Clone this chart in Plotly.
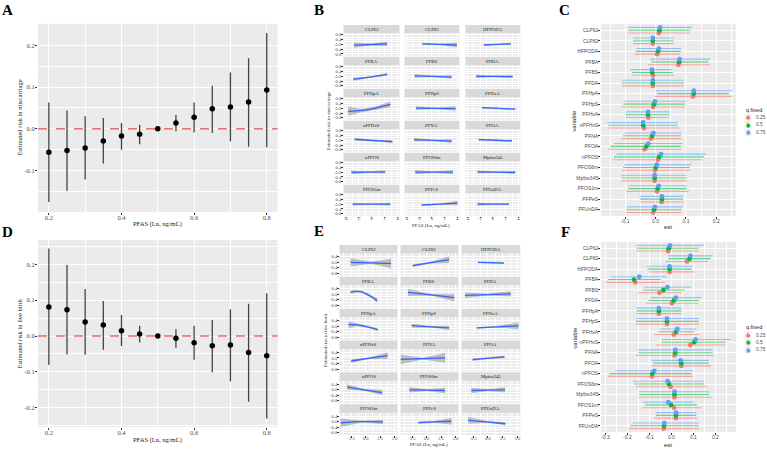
import plotly.graph_objects as go

W, H = 767, 452


def X(p):
    return p / W


def Y(p):
    return 1 - p / H


# ---------------- data: panels A and D ----------------
pfas = [0.2, 0.25, 0.3, 0.35, 0.4, 0.45, 0.5, 0.55, 0.6, 0.65, 0.7, 0.75, 0.8]
mis_est = [-0.056, -0.052, -0.046, -0.029, -0.017, -0.013, 0.0, 0.014, 0.028, 0.048, 0.052, 0.064, 0.093]
mis_lo = [-0.175, -0.148, -0.121, -0.083, -0.050, -0.037, 0.0, -0.006, -0.009, -0.010, -0.030, -0.043, -0.044]
mis_hi = [0.063, 0.044, 0.030, 0.026, 0.014, 0.010, 0.0, 0.033, 0.063, 0.103, 0.135, 0.169, 0.229]
lb_est = [0.081, 0.073, 0.039, 0.031, 0.015, 0.006, 0.0, -0.006, -0.019, -0.027, -0.025, -0.046, -0.055]
lb_lo = [-0.081, -0.051, -0.052, -0.038, -0.028, -0.018, 0.0, -0.033, -0.066, -0.101, -0.127, -0.183, -0.230]
lb_hi = [0.244, 0.198, 0.131, 0.098, 0.059, 0.029, 0.0, 0.019, 0.029, 0.045, 0.075, 0.090, 0.119]

# ---------------- variables ----------------
variables = ["CLP62", "CLP82", "HFPODA", "PFBA", "PFBS", "PFDA", "PFHpA", "PFHpS", "PFHxA",
             "nPFHxS", "PFNA", "PFOA", "nPFOS", "PFOS6m", "Mpfos345", "PFOS1m", "PFPeS", "PFUnDA"]
quantiles = ["0.25", "0.5", "0.75"]

# ---------------- data: panel B (miscarriage facets) ----------------
B_x = [[-2.7, 0, 2.4], [-1.5, 1.2, 3.9], [-1.4, 0.7, 2.8],
       [-2.8, 0, 2.4], [-2.7, 0.2, 3.1], [-2.6, 0.2, 3.1],
       [-3.6, -1.5, 0.5, 2.9], [-2.5, 0.6, 3.7], [-1.7, 0.9, 3.5],
       [-2.6, 0.3, 3.2], [-2.8, 0.2, 3.1], [-2.2, 0.4, 3.0],
       [-3.1, -0.5, 2.1], [-2.6, 0.35, 3.3], [-2.4, 0.55, 3.5],
       [-2.9, 0, 2.9], [-1.6, 1.2, 4.0], [-2.4, 0.05, 2.5]]
B_fit = [[-0.06, -0.01, 0.04], [0.05, 0.0, -0.05], [-0.05, 0.0, 0.05],
         [-0.24, -0.04, 0.16], [0.04, -0.01, -0.06], [0.0, -0.01, -0.02],
         [-0.25, -0.18, 0.0, 0.32], [0.02, 0.0, -0.02], [0.05, -0.01, -0.07],
         [0.08, -0.02, -0.12], [0.05, -0.01, -0.07], [0.05, 0.0, -0.05],
         [-0.01, 0.01, 0.03], [0.0, 0.0, 0.0], [0.02, 0.0, -0.02],
         [0.0, 0.0, 0.0], [-0.07, 0.01, 0.09], [0.0, 0.0, 0.0]]
B_lo = [[-0.28, -0.07, -0.16], [-0.03, -0.06, -0.25], [-0.12, -0.04, -0.03],
        [-0.36, -0.09, 0.04], [-0.12, -0.06, -0.2], [-0.14, -0.06, -0.14],
        [-0.62, -0.33, -0.12, 0.08], [-0.12, -0.05, -0.2], [-0.02, -0.05, -0.15],
        [-0.04, -0.07, -0.26], [-0.1, -0.06, -0.22], [-0.05, -0.04, -0.15],
        [-0.16, -0.04, -0.1], [-0.18, -0.05, -0.18], [-0.1, -0.05, -0.14],
        [-0.12, -0.04, -0.12], [-0.12, -0.04, -0.1], [-0.14, -0.05, -0.06]]
B_hi = [[0.16, 0.05, 0.24], [0.13, 0.06, 0.15], [0.02, 0.04, 0.13],
        [-0.12, 0.01, 0.28], [0.2, 0.04, 0.08], [0.14, 0.04, 0.1],
        [0.12, -0.03, 0.12, 0.56], [0.16, 0.05, 0.16], [0.12, 0.03, 0.01],
        [0.2, 0.03, 0.02], [0.2, 0.04, 0.08], [0.15, 0.04, 0.05],
        [0.14, 0.06, 0.16], [0.18, 0.05, 0.18], [0.14, 0.05, 0.1],
        [0.12, 0.04, 0.12], [-0.02, 0.06, 0.28], [0.14, 0.05, 0.06]]

# ---------------- data: panel E (live birth facets) ----------------
E_x = [[-2.6, 0.9, 4.4], [-2.4, 0.75, 3.9], [-1.7, 0.5, 2.7],
       [-2.6, -1.7, -0.8, 0.0, 1.0, 2.0], [-3.2, 0.8, 4.8], [-3.9, 0, 3.9],
       [-2.95, -1.5, 0.3, 2.1], [-2.55, 0.7, 3.9], [-1.9, 1.65, 5.2],
       [-2.5, 0.65, 3.8], [-4.5, -0.65, 3.2], [-2.6, 0.1, 2.8],
       [-3.2, -0.2, 2.85], [-2.95, 0.1, 3.2], [-2.8, 0.05, 2.9],
       [-4.3, -0.6, 3.0], [-1.4, 1.45, 4.3], [-3.35, -0.2, 2.95]]
E_fit = [[0.0, -0.03, -0.08], [-0.23, -0.02, 0.2], [0.0, -0.02, -0.05],
         [0.15, 0.21, 0.18, 0.05, -0.18, -0.45], [0.13, -0.05, -0.24], [-0.08, -0.03, 0.03],
         [0.1, 0.08, -0.05, -0.26], [0.03, -0.05, -0.13], [-0.13, -0.05, 0.02],
         [-0.22, -0.02, 0.17], [-0.1, -0.05, 0.0], [-0.12, -0.02, 0.08],
         [0.2, 0.0, -0.2], [0.0, -0.02, -0.05], [-0.05, -0.02, 0.0],
         [-0.08, 0.0, -0.02], [-0.07, -0.02, 0.03], [0.1, -0.02, -0.15]]
E_lo = [[-0.3, -0.1, -0.42], [-0.33, -0.08, -0.04], [-0.05, -0.06, -0.12],
        [0.03, 0.13, 0.11, -0.03, -0.28, -0.63], [-0.12, -0.11, -0.5], [-0.28, -0.09, -0.17],
        [-0.15, -0.02, -0.12, -0.36], [-0.12, -0.11, -0.28], [-0.19, -0.11, -0.23],
        [-0.34, -0.08, -0.08], [-0.45, -0.12, -0.35], [-0.22, -0.07, -0.02],
        [0.0, -0.06, -0.4], [-0.2, -0.08, -0.25], [-0.25, -0.08, -0.2],
        [-0.38, -0.06, -0.17], [-0.15, -0.08, -0.22], [-0.15, -0.08, -0.25]]
E_hi = [[0.3, 0.04, 0.26], [-0.13, 0.04, 0.44], [0.05, 0.02, 0.02],
        [0.27, 0.29, 0.25, 0.13, -0.08, -0.27], [0.38, 0.01, 0.02], [0.12, 0.03, 0.23],
        [0.35, 0.18, 0.02, -0.16], [0.18, 0.01, 0.02], [-0.07, 0.01, 0.27],
        [-0.1, 0.04, 0.42], [0.25, 0.02, 0.35], [-0.02, 0.03, 0.18],
        [0.4, 0.06, 0.0], [0.2, 0.04, 0.15], [0.15, 0.04, 0.2],
        [0.22, 0.06, 0.13], [0.01, 0.04, 0.28], [0.35, 0.04, -0.05]]

# ---------------- data: panel C (miscarriage, quantile estimates) ----------------
C_est = [[0.011, -0.009, 0.005, 0.075, -0.008, -0.009, 0.123, -0.008, -0.024, -0.038, -0.015, -0.036, 0.008, -0.002, -0.003, 0.005, 0.020, -0.008],
         [0.013, -0.009, 0.008, 0.078, -0.011, -0.009, 0.126, -0.005, -0.025, -0.041, -0.011, -0.030, 0.012, 0.001, -0.003, 0.007, 0.021, -0.005],
         [0.015, -0.009, 0.011, 0.079, -0.012, -0.009, 0.126, -0.002, -0.025, -0.041, -0.007, -0.024, 0.018, 0.004, -0.003, 0.010, 0.021, -0.002]]
C_lo = [[-0.090, -0.074, -0.068, -0.025, -0.076, -0.111, -0.002, -0.114, -0.098, -0.155, -0.112, -0.155, -0.139, -0.112, -0.112, -0.096, -0.052, -0.098],
        [-0.090, -0.074, -0.065, -0.014, -0.078, -0.111, 0.004, -0.107, -0.098, -0.155, -0.107, -0.148, -0.137, -0.107, -0.112, -0.090, -0.052, -0.096],
        [-0.090, -0.074, -0.063, -0.017, -0.082, -0.111, 0.000, -0.103, -0.098, -0.159, -0.103, -0.137, -0.128, -0.103, -0.112, -0.090, -0.052, -0.093]]
C_hi = [[0.113, 0.059, 0.081, 0.178, 0.060, 0.093, 0.252, 0.097, 0.046, 0.078, 0.084, 0.084, 0.154, 0.113, 0.103, 0.109, 0.091, 0.085],
        [0.115, 0.059, 0.083, 0.174, 0.057, 0.093, 0.241, 0.097, 0.046, 0.073, 0.084, 0.084, 0.160, 0.113, 0.103, 0.103, 0.091, 0.087],
        [0.120, 0.059, 0.084, 0.180, 0.054, 0.093, 0.252, 0.102, 0.046, 0.074, 0.087, 0.089, 0.165, 0.116, 0.103, 0.103, 0.091, 0.089]]

# ---------------- data: panel F (live birth, quantile estimates) ----------------
F_est = [[-0.015, 0.071, -0.008, -0.164, -0.054, 0.002, -0.057, -0.020, 0.011, 0.086, 0.014, 0.045, -0.089, -0.003, 0.014, 0.012, 0.020, -0.035],
         [-0.011, 0.083, -0.008, -0.170, -0.036, 0.011, -0.057, -0.020, 0.021, 0.104, 0.018, 0.045, -0.086, -0.011, 0.014, -0.002, 0.021, -0.033],
         [-0.006, 0.087, -0.008, -0.146, -0.018, 0.020, -0.057, -0.020, 0.027, 0.110, 0.018, 0.042, -0.078, -0.017, 0.014, -0.014, 0.021, -0.032]]
F_lo = [[-0.158, -0.026, -0.101, -0.300, -0.152, -0.116, -0.158, -0.161, -0.077, -0.071, -0.161, -0.089, -0.289, -0.161, -0.146, -0.131, -0.078, -0.191],
        [-0.158, -0.014, -0.108, -0.289, -0.128, -0.104, -0.158, -0.161, -0.059, -0.044, -0.150, -0.083, -0.282, -0.170, -0.146, -0.119, -0.071, -0.187],
        [-0.158, -0.014, -0.113, -0.274, -0.123, -0.096, -0.158, -0.161, -0.053, -0.044, -0.150, -0.089, -0.255, -0.176, -0.146, -0.128, -0.071, -0.176]]
F_hi = [[0.125, 0.167, 0.105, -0.029, 0.045, 0.120, 0.047, 0.125, 0.125, 0.245, 0.193, 0.181, 0.098, 0.163, 0.182, 0.137, 0.117, 0.125],
        [0.125, 0.179, 0.092, -0.048, 0.060, 0.126, 0.047, 0.125, 0.104, 0.248, 0.188, 0.170, 0.092, 0.151, 0.173, 0.117, 0.114, 0.125],
        [0.148, 0.188, 0.098, -0.021, 0.090, 0.137, 0.047, 0.125, 0.113, 0.268, 0.188, 0.170, 0.098, 0.148, 0.173, 0.105, 0.113, 0.125]]

# ---------------- styles ----------------
SERIF = "Liberation Serif"
SANS = "Liberation Sans"
TICK_COL = "#4D4D4D"
Q_COLORS = ["#F8766D", "#00BA38", "#619CFF"]
Q_LIGHT = ["rgba(248,118,109,0.6)", "rgba(0,186,56,0.6)", "rgba(97,156,255,0.6)"]

fig = go.Figure()
layout = dict(
    width=W, height=H, autosize=False,
    margin=dict(l=0, r=0, t=0, b=0),
    paper_bgcolor="white", plot_bgcolor="#EBEBEB",
    showlegend=False,
    scattermode="group", scattergap=0.2,
)
shapes = []
annotations = []


def base_axis(font, size, **kw):
    d = dict(showline=False, zeroline=False, showgrid=True, gridcolor="white",
             ticks="outside", tickcolor="#333333", ticklen=2, tickwidth=0.6,
             tickfont=dict(family=font, size=size, color=TICK_COL), fixedrange=True)
    d.update(kw)
    return d


def txt(s, px, py, size, font=SERIF, angle=0, color="#1A1A1A", xanchor="center", bold=False):
    annotations.append(dict(text=s, x=X(px), y=Y(py), xref="paper", yref="paper",
                            showarrow=False, textangle=angle, xanchor=xanchor, yanchor="middle",
                            font=dict(family=font, size=size, color=color,
                                      weight="bold" if bold else "normal")))


# ---------------- panels A and D ----------------
def dose_panel(k, est, lo, hi, x0, x1, y0, y1, yr, ytv):
    ax = "" if k == 1 else str(k)
    layout["xaxis" + ax] = base_axis(
        SERIF, 6.5, domain=[X(x0), X(x1)], anchor="y" + ax, range=[0.17, 0.83],
        tickvals=[0.2, 0.4, 0.6, 0.8], ticktext=["0.2", "0.4", "0.6", "0.8"], gridwidth=0.9,
        ticklabelstandoff=-3,
        minor=dict(tickvals=[0.3, 0.5, 0.7], showgrid=True, gridcolor="white", gridwidth=0.45, ticks=""))
    layout["yaxis" + ax] = base_axis(
        SERIF, 6.5, domain=[Y(y1), Y(y0)], anchor="x" + ax, range=yr,
        tickvals=ytv, ticktext=[("%.1f" % v).replace("-0.0", "0.0") for v in ytv], gridwidth=0.9,
        ticklabelstandoff=-1,
        minor=dict(tickvals=[v + 0.05 for v in ytv] + [ytv[0] - 0.05], showgrid=True,
                   gridcolor="white", gridwidth=0.45, ticks=""))
    fig.add_trace(go.Scatter(
        x=pfas, y=est, mode="markers", xaxis="x" + ax, yaxis="y" + ax,
        marker=dict(color="black", size=5.5),
        error_y=dict(type="data", symmetric=False,
                     array=[h - e for h, e in zip(hi, est)],
                     arrayminus=[e - l for e, l in zip(est, lo)],
                     width=0, thickness=1.3, color="#444444"),
        hoverinfo="skip"))
    shapes.append(dict(type="line", xref="x" + ax + " domain", x0=0, x1=1, yref="y" + ax, y0=0, y1=0,
                       line=dict(color="#D22B2B", width=1, dash="dash"), layer="above"))


dose_panel(1, mis_est, mis_lo, mis_hi, 38, 278, 23, 212, [-0.199, 0.251], [-0.1, 0.0, 0.1, 0.2])
dose_panel(2, lb_est, lb_lo, lb_hi, 38, 278, 240, 428, [-0.254, 0.268], [-0.2, -0.1, 0.0, 0.1, 0.2])
txt("Estimated risk in miscarriage", 20, 117, 6.5, angle=-90)
txt("PFAS (Ln, ng/mL)", 158, 224, 6.5)
txt("Estimated risk in live birth", 20, 334, 6.5, angle=-90)
txt("PFAS (Ln, ng/mL)", 158, 441, 6.5)


# ---------------- panels C and F ----------------
def quant_panel(k, est, lo, hi, x0, x1, y0, y1, xr, xtv, xminor):
    ax = str(k)
    layout["xaxis" + ax] = base_axis(
        SANS, 5, domain=[X(x0), X(x1)], anchor="y" + ax, range=xr,
        tickvals=xtv, ticktext=[("%.1f" % v).replace("-0.0", "0.0") for v in xtv], gridwidth=0.8,
        ticklabelstandoff=-2,
        minor=dict(tickvals=xminor, showgrid=True, gridcolor="white", gridwidth=0.4, ticks=""))
    layout["yaxis" + ax] = base_axis(
        SANS, 5, domain=[Y(y1), Y(y0)], anchor="x" + ax, type="category",
        categoryorder="array", categoryarray=variables[::-1], range=[-0.6, 17.6], gridwidth=0.8,
        ticklabelstandoff=-1)
    for qi, q in enumerate(quantiles):
        fig.add_trace(go.Scatter(
            x=est[qi], y=variables, orientation="h", mode="markers",
            xaxis="x" + ax, yaxis="y" + ax, name=q,
            marker=dict(color=Q_COLORS[qi], size=4.8),
            error_x=dict(type="data", symmetric=False,
                         array=[h - e for h, e in zip(hi[qi], est[qi])],
                         arrayminus=[e - l for e, l in zip(est[qi], lo[qi])],
                         width=0, thickness=1.1, color=Q_LIGHT[qi]),
            hoverinfo="skip"))


quant_panel(3, C_est, C_lo, C_hi, 602, 737, 23, 216, [-0.179, 0.265], [-0.1, 0.0, 0.1, 0.2],
            [-0.15, -0.05, 0.05, 0.15, 0.25])
quant_panel(4, F_est, F_lo, F_hi, 602, 737, 242, 433, [-0.319, 0.294], [-0.3, -0.2, -0.1, 0.0, 0.1, 0.2],
            [-0.25, -0.15, -0.05, 0.05, 0.15, 0.25])
txt("variable", 575, 120, 6, font=SANS, angle=-90)
txt("est", 669, 227, 6, font=SANS)
txt("variable", 575, 338, 6, font=SANS, angle=-90)
txt("est", 669, 446, 6, font=SANS)


def legend_block(py_title):
    txt("q.fixed", 745, py_title, 5.5, font=SANS, xanchor="left")
    for qi, q in enumerate(quantiles):
        py = py_title + 8 + qi * 7.5
        shapes.append(dict(type="rect", xref="paper", yref="paper",
                           x0=X(745.5), x1=X(752.5), y0=Y(py + 3.5), y1=Y(py - 3.5),
                           fillcolor="#F2F2F2", line=dict(width=0)))
        shapes.append(dict(type="line", xref="paper", yref="paper",
                           x0=X(749), x1=X(749), y0=Y(py + 3), y1=Y(py - 3),
                           line=dict(color=Q_LIGHT[qi], width=1)))
        txt("\u25CF", 749, py, 5, font="DejaVu Sans", color=Q_COLORS[qi])
        txt(q, 755, py, 4.8, font=SANS, xanchor="left", color=TICK_COL)


legend_block(109)
legend_block(327.5)


# ---------------- facet panels B and E ----------------
def facet_panel(start_k, xs, fits, los, his, cols, top0, pitch, xr, xtv, xtt, xminor, yr, ytv, yminor):
    for i, var in enumerate(variables):
        r, c = divmod(i, 3)
        k = start_k + i
        ax = str(k)
        st = top0 + pitch * r
        ptop, pbot = st + 8.5, st + 31
        cx0, cx1 = cols[c]
        layout["xaxis" + ax] = base_axis(
            SERIF, 4.5, domain=[X(cx0), X(cx1)], anchor="y" + ax, range=xr,
            tickvals=xtv, ticktext=xtt, showticklabels=(r == 5), ticks="outside" if r == 5 else "",
            gridwidth=0.6, ticklen=1.5, ticklabelstandoff=-3,
            minor=dict(tickvals=xminor, showgrid=True, gridcolor="white", gridwidth=0.3, ticks=""))
        layout["yaxis" + ax] = base_axis(
            SERIF, 4.5, domain=[Y(pbot), Y(ptop)], anchor="x" + ax, range=yr,
            tickvals=ytv, ticktext=[("%.1f" % v).replace("-0.0", "0.0") for v in ytv],
            showticklabels=(c == 0), ticks="outside" if c == 0 else "", gridwidth=0.6, ticklen=1.5,
            ticklabelstandoff=-1,
            minor=dict(tickvals=yminor, showgrid=True, gridcolor="white", gridwidth=0.3, ticks=""))
        shapes.append(dict(type="rect", xref="paper", yref="paper",
                           x0=X(cx0), x1=X(cx1), y0=Y(ptop), y1=Y(st),
                           fillcolor="#D9D9D9", line=dict(width=0), layer="below"))
        txt(var, (cx0 + cx1) / 2, st + 4.4, 4.8, color="#1A1A1A")
        x = xs[i]
        fig.add_trace(go.Scatter(
            x=x + x[::-1], y=his[i] + los[i][::-1], mode="lines", fill="toself",
            fillcolor="rgba(153,153,153,0.6)", line=dict(width=0),
            xaxis="x" + ax, yaxis="y" + ax, offsetgroup="g", hoverinfo="skip"))
        fig.add_trace(go.Scatter(
            x=x, y=fits[i], mode="lines", line=dict(color="#3366FF", width=1.3, shape="spline"),
            xaxis="x" + ax, yaxis="y" + ax, offsetgroup="g", hoverinfo="skip"))


facet_panel(5, B_x, B_fit, B_lo, B_hi, [(344, 400), (405, 460), (466, 521)], 24, 32.1,
            [-4.3, 4.3], [-4, -2, 0, 2, 4], ["-4", "-2", "0", "2", "4"], [-3, -1, 1, 3],
            [-0.95, 0.92], [-0.8, -0.4, 0.0, 0.4, 0.8], [-0.6, -0.2, 0.2, 0.6])
facet_panel(23, E_x, E_fit, E_lo, E_hi, [(340, 398), (401, 459), (462, 521)], 245, 32.0,
            [-4.5, 5.5], [-2.5, 0.0, 2.5, 5.0], ["-2.5", "0.0", "2.5", "5.0"], [-3.75, -1.25, 1.25, 3.75],
            [-0.97, 0.65], [-0.8, -0.4, 0.0, 0.4], [-0.6, -0.2, 0.2, 0.6])
txt("Estimated risk in miscarriage", 329, 120, 5, angle=-90)
txt("PFAS (Ln, ng/mL)", 432, 226, 5)
txt("Estimated risk in live birth", 326, 341, 5, angle=-90)
txt("PFAS (Ln, ng/mL)", 430, 446, 5)

# ---------------- panel letters ----------------
for letter, px, py in [("A", 8, 9), ("B", 319, 9), ("C", 565, 9),
                       ("D", 8, 232), ("E", 319, 231), ("F", 566, 232)]:
    txt(letter, px, py, 15, color="black", bold=True)

layout["shapes"] = shapes
layout["annotations"] = annotations
fig.update_layout(**layout)
fig.write_html("out.html")
